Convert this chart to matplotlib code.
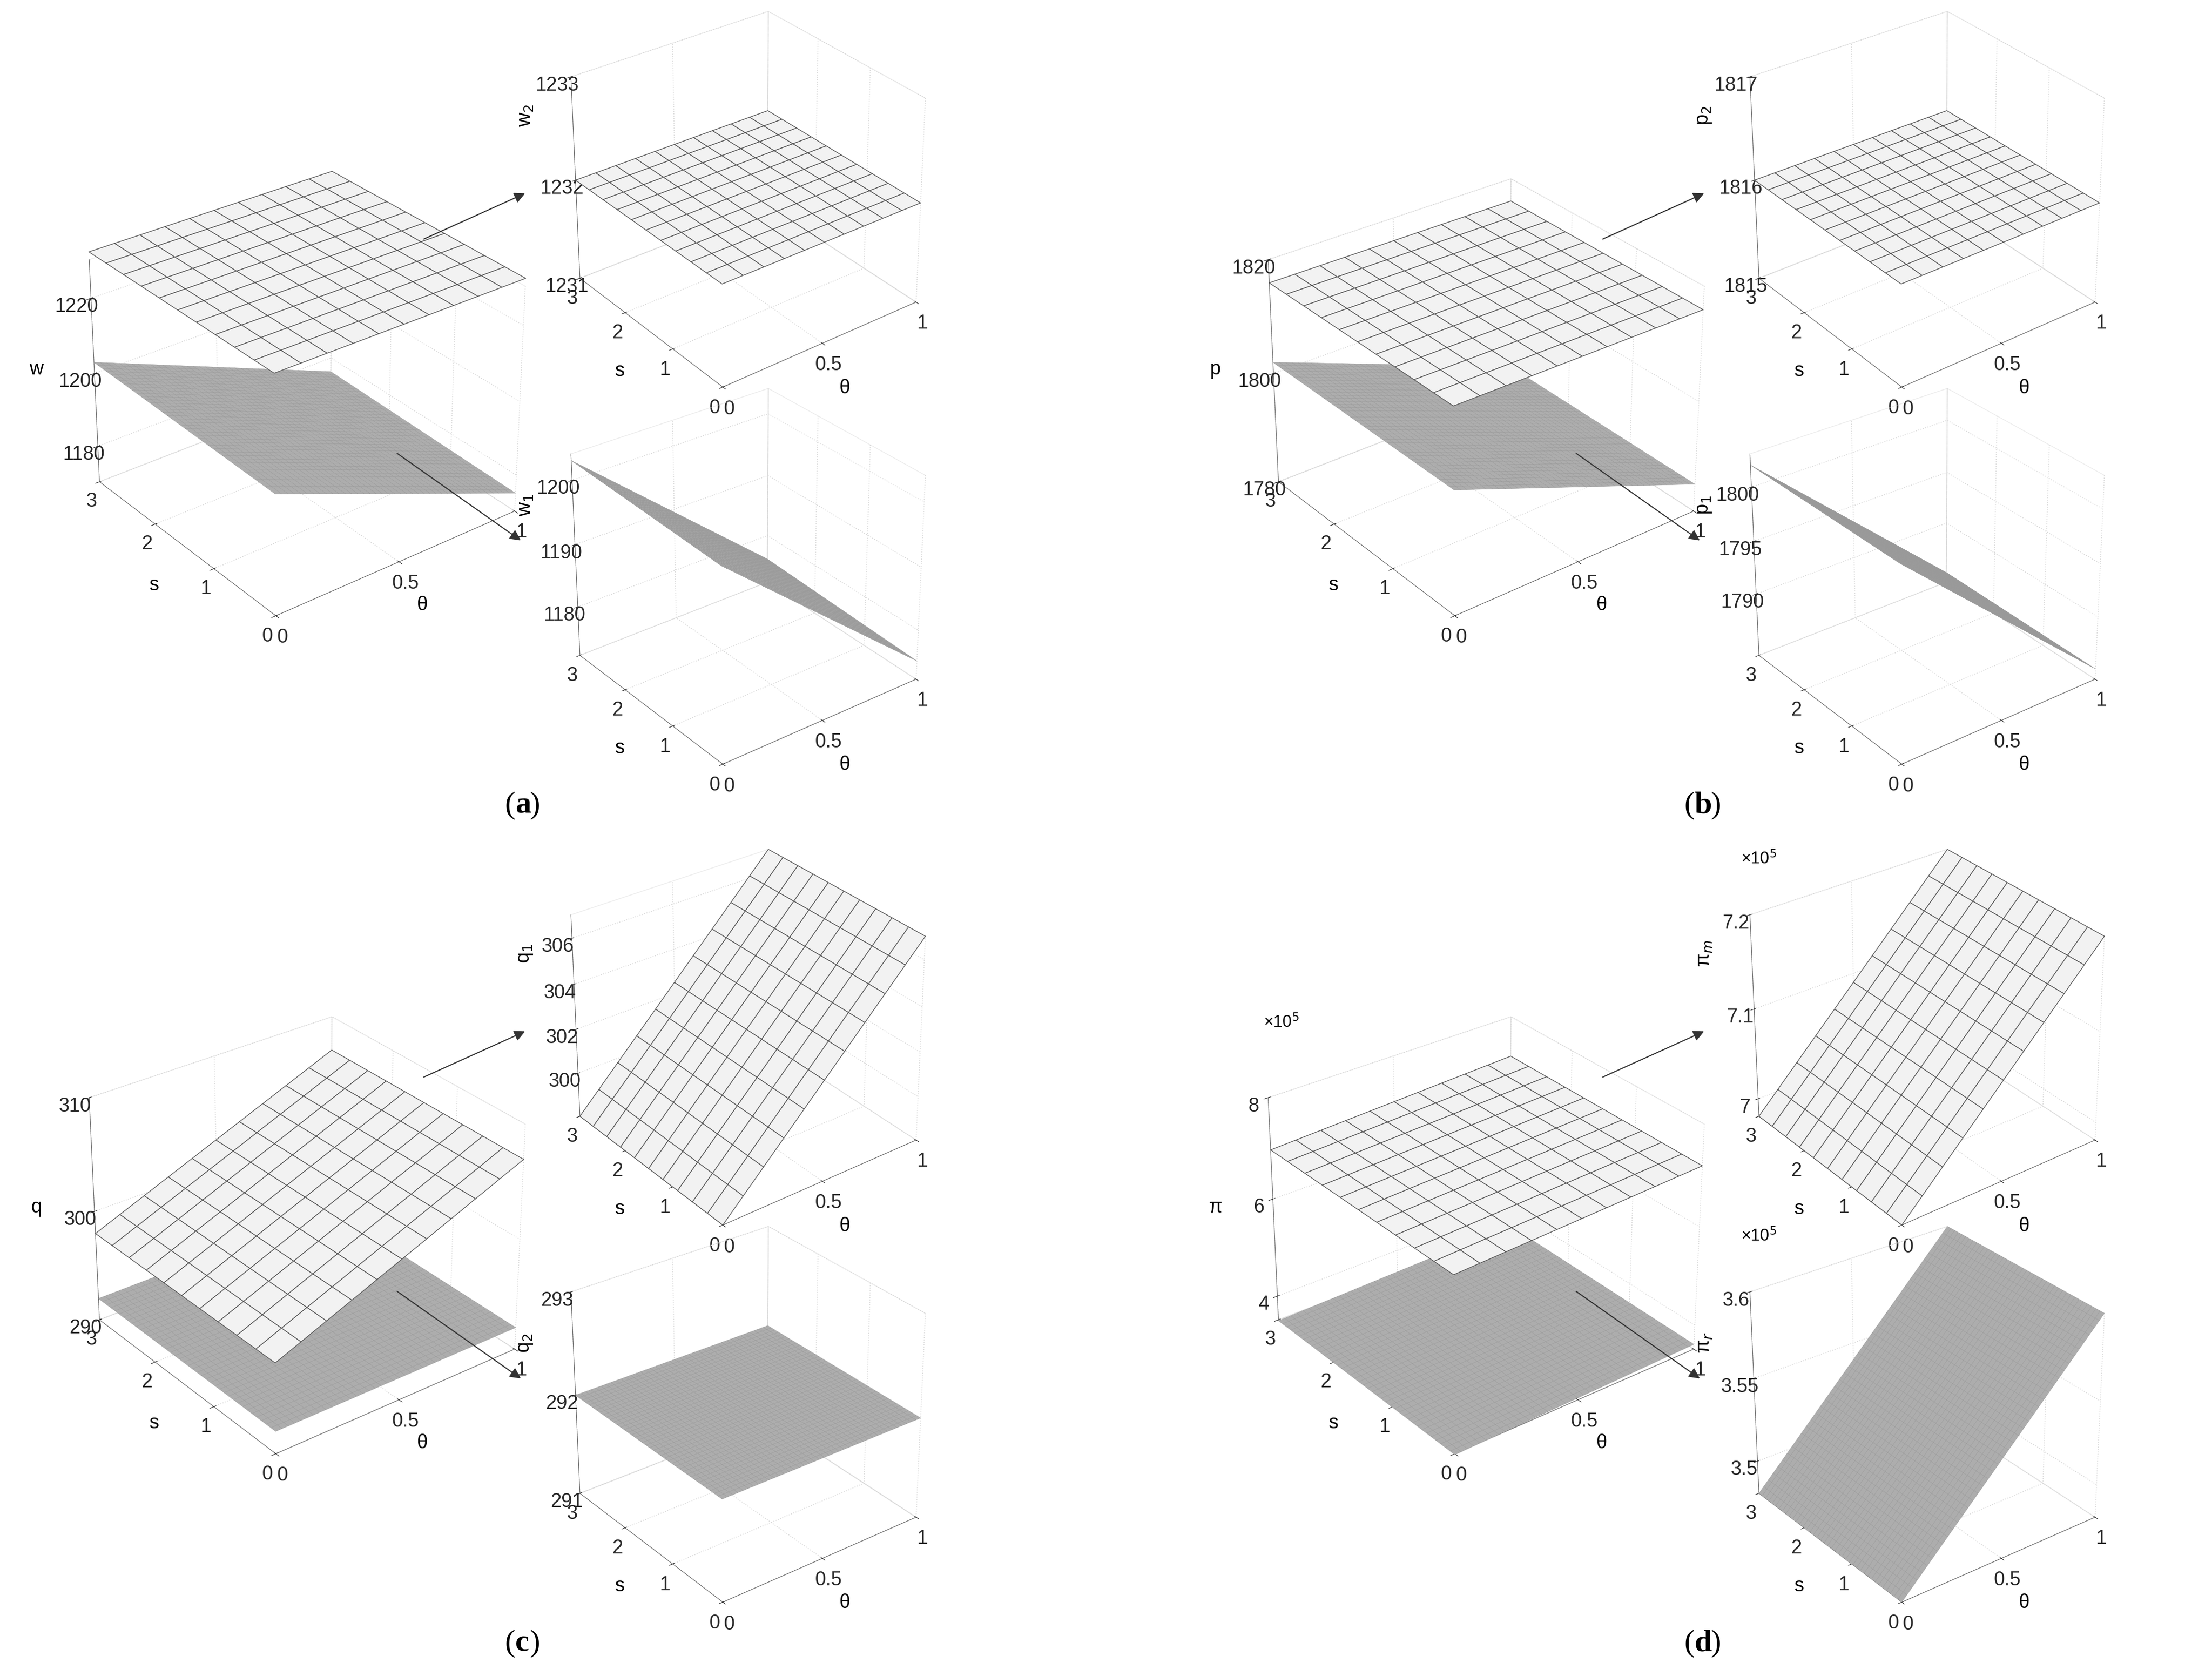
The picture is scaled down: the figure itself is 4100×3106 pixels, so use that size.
import numpy as np
import matplotlib
matplotlib.use("Agg")
from matplotlib import pyplot as plt
from matplotlib.patches import FancyArrowPatch

plt.rcParams["font.family"] = ["Liberation Sans", "DejaVu Sans"]
plt.rcParams["font.size"] = 26

# corner values of each plane: z at (theta=0,s=0), (1,0), (0,3), (1,3)
w2_corners = [1232, 1232, 1232, 1232]
w1_corners = [1202, 1175, 1203, 1176]
p2_corners = [1816, 1816, 1816, 1816]
p1_corners = [1802, 1785, 1802, 1785]
q1_corners = [298, 307, 298, 307]
q2_corners = [292, 292, 292, 292]
pim_corners = [6.98e5, 7.2e5, 6.98e5, 7.2e5]
pir_corners = [3.48e5, 3.6e5, 3.48e5, 3.6e5]

panels = [
    dict(tag="a", up=w2_corners, lo=w1_corners, zlim=(1170, 1230), zt=[1180, 1200, 1220],
         uzl=(1231, 1233), uzt=[1231, 1232, 1233], lzl=(1172, 1204), lzt=[1180, 1190, 1200],
         lab="w", ulab="w$_2$", llab="w$_1$", sci=False),
    dict(tag="b", up=p2_corners, lo=p1_corners, zlim=(1780, 1820), zt=[1780, 1800, 1820],
         uzl=(1815, 1817), uzt=[1815, 1816, 1817], lzl=(1784, 1803), lzt=[1790, 1795, 1800],
         lab="p", ulab="p$_2$", llab="p$_1$", sci=False),
    dict(tag="c", up=q1_corners, lo=q2_corners, zlim=(290, 310), zt=[290, 300, 310],
         uzl=(298, 307), uzt=[300, 302, 304, 306], lzl=(291, 293), lzt=[291, 292, 293],
         lab="q", ulab="q$_1$", llab="q$_2$", sci=False),
    dict(tag="d", up=pim_corners, lo=pir_corners, zlim=(3.5e5, 8e5), zt=[4e5, 6e5, 8e5],
         uzl=(6.98e5, 7.2e5), uzt=[7e5, 7.1e5, 7.2e5], lzl=(3.48e5, 3.6e5), lzt=[3.5e5, 3.55e5, 3.6e5],
         lab="π", ulab="π$_m$", llab="π$_r$", sci=True),
]

fig = plt.figure(figsize=(41, 31.06), dpi=100)


def plane(c, n):
    th = np.linspace(0, 1, n)
    s = np.linspace(0, 3, n)
    T, S = np.meshgrid(th, s)
    Z = (c[0] * (1 - T) * (3 - S) + c[1] * T * (3 - S) + c[2] * (1 - T) * S + c[3] * T * S) / 3
    return T, S, Z


def style(ax, zlim, zt, zlab, sci, zpos=None):
    ax.set_facecolor("none")
    ax.view_init(elev=30, azim=-127.5)
    ax.set_xlim(0, 1)
    ax.set_ylim(0, 3)
    ax.set_zlim(*zlim)
    ax.set_xticks([0, 0.5, 1])
    ax.set_xticklabels(["0", "0.5", "1"])
    ax.set_yticks([0, 1, 2, 3])
    ax.set_zticks(zt)
    if sci:
        ax.set_zticklabels([f"{v / 1e5:g}" for v in zt])
        ax.text2D(0.06, 0.92, "×10$^5$", transform=ax.transAxes, fontsize=22)
    ax.set_xlabel("θ", labelpad=20)
    ax.set_ylabel("s", labelpad=20)
    for a in (ax.xaxis, ax.yaxis, ax.zaxis):
        a.pane.fill = False
        a.pane.set_edgecolor("0.85")
        a._axinfo["grid"]["color"] = "0.85"
        a._axinfo["grid"]["linestyle"] = ":"
        a._axinfo["grid"]["linewidth"] = 1.2
        a.line.set_color("0.4")
    ax.tick_params(colors="0.15", labelsize=26)
    if zpos is None:
        ax.set_zlabel(zlab, labelpad=26)
    else:
        ax.text2D(zpos[0], zpos[1], zlab, transform=ax.transAxes, rotation=90,
                  ha="center", va="center", fontsize=26)


def surf(ax, c, light):
    if light:
        T, S, Z = plane(c, 11)
        ax.plot_surface(T, S, Z, color="0.95", edgecolor="0.35", linewidth=1.0, shade=False)
    else:
        T, S, Z = plane(c, 41)
        ax.plot_surface(T, S, Z, color="0.68", edgecolor="0.6", linewidth=0.4, shade=False)


for i, p in enumerate(panels):
    dx = 0.533 * (i % 2)
    dy = -0.50 * (i // 2)
    main = fig.add_axes([0.025 + dx, 0.62 + dy, 0.22, 0.29], projection="3d")
    main.set_box_aspect((4, 4, 3.4))
    surf(main, p["up"], True)
    surf(main, p["lo"], False)
    style(main, p["zlim"], p["zt"], p["lab"], p["sci"])

    top = fig.add_axes([0.243 + dx, 0.745 + dy, 0.184, 0.275], projection="3d")
    top.set_box_aspect((4, 4, 3.8))
    surf(top, p["up"], True)
    style(top, p["uzl"], p["uzt"], p["ulab"], p["sci"], zpos=(-0.03, 0.7))

    bot = fig.add_axes([0.243 + dx, 0.52 + dy, 0.184, 0.275], projection="3d")
    bot.set_box_aspect((4, 4, 3.8))
    surf(bot, p["lo"], False)
    style(bot, p["lzl"], p["lzt"], p["llab"], p["sci"], zpos=(-0.03, 0.67))

    x0, y0 = 0.233 + dx, 0.515 + dy
    wid = 0.0072 if p["tag"] in ("b", "d") else 0.0062
    fig.text(x0, y0, "(", fontsize=42, family="Liberation Serif", ha="right")
    fig.text(x0, y0, p["tag"], fontsize=42, family="Liberation Serif", weight="bold")
    fig.text(x0 + wid, y0, ")", fontsize=42, family="Liberation Serif")

    fig.add_artist(FancyArrowPatch(
        (0.191 + dx, 0.857 + dy), (0.238 + dx, 0.885 + dy), transform=fig.transFigure,
        arrowstyle="-|>", mutation_scale=30, color="0.2", lw=1.5))
    fig.add_artist(FancyArrowPatch(
        (0.179 + dx, 0.73 + dy), (0.236 + dx, 0.677 + dy), transform=fig.transFigure,
        arrowstyle="-|>", mutation_scale=30, color="0.2", lw=1.5))

fig.savefig("out.png", dpi=100, facecolor="white")
